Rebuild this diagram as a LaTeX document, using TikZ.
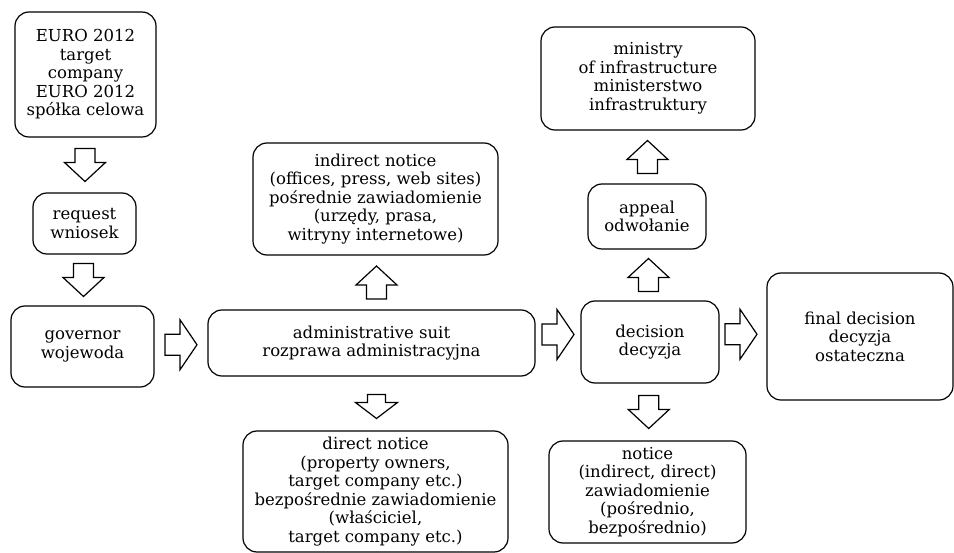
\documentclass[tikz,border=0pt]{standalone}
\usepackage{fontspec}
\setmainfont{DejaVu Serif}
\usetikzlibrary{calc}
\begin{document}
\begin{tikzpicture}[x=1pt,y=-1pt,
  box/.style={draw, line width=1.2pt, rounded corners=14pt, align=center, inner sep=0pt,
    font=\fontsize{16.5}{18.5}\selectfont},
  blk/.style={draw, line width=1.2pt, line join=miter, fill=white},
  pics/varrow/.style={code={\draw[blk] (-16.5,-10) -- (-2.5,-10) -- (-2.5,-20.5) -- (16.5,0) -- (-2.5,20.5) -- (-2.5,10) -- (-16.5,10) -- cycle;}},
  pics/sarrow/.style={code={\draw[blk] (-12,-9) -- (-4,-9) -- (-4,-21) -- (12,0) -- (-4,21) -- (-4,9) -- (-12,9) -- cycle;}},
  pics/harrow/.style={code={\draw[blk] (-16,-10.5) -- (-1,-10.5) -- (-1,-25) -- (16,0) -- (-1,25) -- (-1,10.5) -- (-16,10.5) -- cycle;}}
]
\useasboundingbox (0,0) rectangle (954,553);

\node[box, minimum width=141pt, minimum height=125pt] (euro) at (85.5,74.5)
  {EURO 2012\\target\\company\\EURO 2012\\spółka celowa};
\node[box, minimum width=103pt, minimum height=61pt] (req) at (84.5,223.5)
  {request\\wniosek};
\node[box, minimum width=143pt, minimum height=81pt] (gov) at (82.5,346.5)
  {governor\\wojewoda};
\node[box, minimum width=327pt, minimum height=66pt] (admin) at (371.5,343)
  {administrative suit\\rozprawa administracyjna};
\node[box, minimum width=245pt, minimum height=112pt] (ind) at (375.5,199)
  {indirect notice\\(offices, press, web sites)\\pośrednie zawiadomienie\\(urzędy, prasa,\\witryny internetowe)};
\node[box, minimum width=265pt, minimum height=121pt] (dir) at (375.5,491.5)
  {direct notice\\(property owners,\\target company etc.)\\bezpośrednie zawiadomienie\\(właściciel,\\target company etc.)};
\node[box, minimum width=214pt, minimum height=103pt] (min) at (648,78.5)
  {ministry\\of infrastructure\\ministerstwo\\infrastruktury};
\node[box, minimum width=118pt, minimum height=65pt] (app) at (647,216.5)
  {appeal\\odwołanie};
\node[box, minimum width=138pt, minimum height=82pt] (dec) at (650,342)
  {decision\\decyzja};
\node[box, minimum width=186pt, minimum height=127pt] (fin) at (860,336.5)
  {final decision\\decyzja\\ostateczna};
\node[box, minimum width=197pt, minimum height=102pt] (not) at (647.5,492)
  {notice\\(indirect, direct)\\zawiadomienie\\(pośrednio,\\bezpośrednio)};

\pic[rotate=-90] at ($(euro.south)!0.5!(req.north)$) {varrow};
\pic[rotate=-90] at ($(req.south)!0.5!(gov.north)$) {varrow};
\pic at ($(gov.east)!0.5!(admin.west)$) {harrow};
\pic[rotate=90] at ($(admin.north)!0.5!(ind.south)+(3,0)$) {varrow};
\pic[rotate=-90] at ($(admin.south)!0.5!(dir.north)+(3,3)$) {sarrow};
\pic at ($(admin.east)!0.5!(dec.west)+(0,-8)$) {harrow};
\pic at ($(dec.east)!0.5!(fin.west)+(-2,-5)$) {harrow};
\pic[rotate=90] at ($(dec.north)!0.5!(app.south)$) {varrow};
\pic[rotate=90] at ($(app.north)!0.5!(min.south)$) {varrow};
\pic[rotate=-90] at ($(dec.south)!0.5!(not.north)$) {varrow};
\end{tikzpicture}
\end{document}
